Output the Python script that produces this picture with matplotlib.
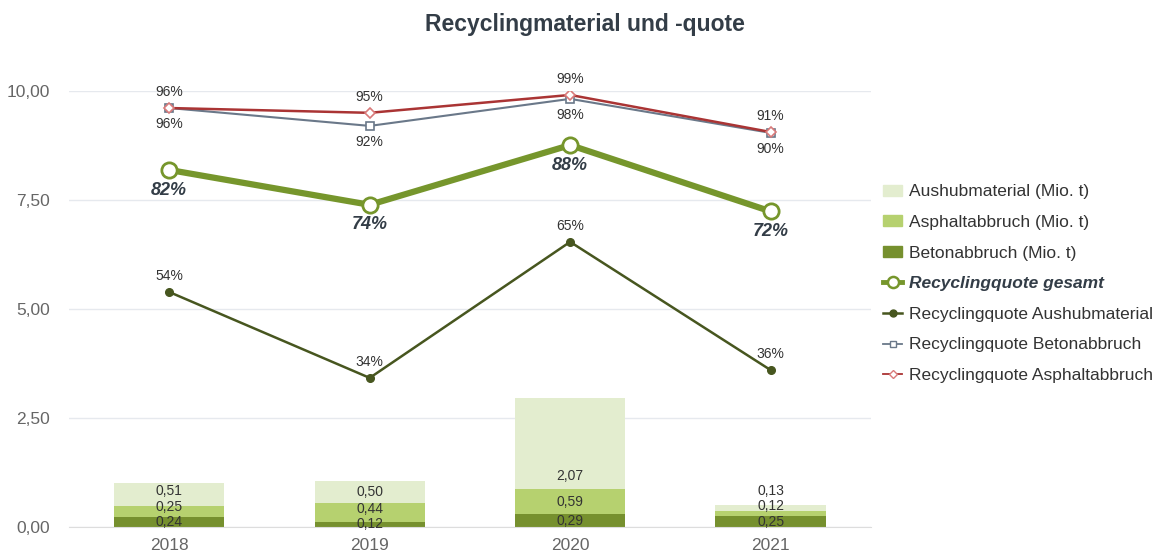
import matplotlib.pyplot as plt
from matplotlib.lines import Line2D
from matplotlib.patches import Patch

plt.rcParams['font.family'] = ['Liberation Sans', 'DejaVu Sans']

# Daten
jahre = ["2018", "2019", "2020", "2021"]
beton_mio_t = [0.24, 0.12, 0.29, 0.25]
asphalt_mio_t = [0.25, 0.44, 0.59, 0.12]
aushub_mio_t = [0.51, 0.50, 2.07, 0.13]

quote_gesamt = [81.9, 73.9, 87.6, 72.4]
quote_aushub = [53.9, 34.2, 65.4, 36.0]
quote_beton = [96.1, 92.0, 98.2, 90.4]
quote_asphalt = [96.1, 95.0, 99.1, 90.6]

c_aushub = "#e3edcf"
c_asphalt = "#b6d16f"
c_beton = "#76902e"
c_gesamt = "#76962c"
c_l_aushub = "#47561f"
c_l_beton = "#6a7889"
c_l_asphalt = "#aa3434"
c_text = "#333d47"

fig = plt.figure(figsize=(11.58, 5.53), dpi=100)
ax = fig.add_axes([0.0596, 0.047, 0.6924, 0.7884])

x = list(range(len(jahre)))
bw = 0.55

# gestapelte Säulen
unten = [0.0] * len(x)
stapel = [(beton_mio_t, c_beton), (asphalt_mio_t, c_asphalt), (aushub_mio_t, c_aushub)]
label_pos = [[] for _ in x]
for werte, farbe in stapel:
    ax.bar(x, werte, bw, bottom=unten, color=farbe, zorder=2)
    for i, v in enumerate(werte):
        y = unten[i] + min(v / 2, 0.3)
        if label_pos[i]:
            y = max(y, label_pos[i][-1] + 0.35)
        label_pos[i].append(y)
        ax.text(i, y, f"{v:.2f}".replace(".", ","), ha="center", va="center",
                fontsize=10, color="#333333", zorder=5)
    unten = [u + v for u, v in zip(unten, werte)]

# Quoten-Linien (Skala: % / 10)
def skala(werte):
    return [v / 10 for v in werte]

ax.plot(x, skala(quote_beton), color=c_l_beton, lw=1.5, marker="s", ms=6,
        mfc="white", mec=c_l_beton, mew=1.2, zorder=6)
ax.plot(x, skala(quote_asphalt), color=c_l_asphalt, lw=1.8, marker="D", ms=5,
        mfc="white", mec="#d97a7a", mew=1.2, zorder=7)
ax.plot(x, skala(quote_aushub), color=c_l_aushub, lw=1.8, marker="o", ms=5.5,
        mfc=c_l_aushub, mec=c_l_aushub, zorder=6)
ax.plot(x, skala(quote_gesamt), color=c_gesamt, lw=4.5, marker="o", ms=11,
        mfc="white", mec=c_gesamt, mew=2, zorder=8)

for i in x:
    ax.annotate(f"{quote_asphalt[i]:.0f}%", (i, quote_asphalt[i] / 10), xytext=(0, 11.5),
                textcoords="offset points", ha="center", va="center", fontsize=10,
                color="#333333", zorder=9)
    ax.annotate(f"{quote_beton[i]:.0f}%", (i, quote_beton[i] / 10), xytext=(0, -11.5),
                textcoords="offset points", ha="center", va="center", fontsize=10,
                color="#333333", zorder=9)
    ax.annotate(f"{quote_aushub[i]:.0f}%", (i, quote_aushub[i] / 10), xytext=(0, 11.5),
                textcoords="offset points", ha="center", va="center", fontsize=10,
                color="#333333", zorder=9)
    ax.annotate(f"{quote_gesamt[i]:.0f}%", (i, quote_gesamt[i] / 10), xytext=(0, -14.5),
                textcoords="offset points", ha="center", va="center", fontsize=13,
                fontweight="bold", fontstyle="italic", color=c_text, zorder=9)

ax.set_xlim(-0.5, 3.5)
ax.set_ylim(0, 10)
ax.set_yticks([0, 2.5, 5, 7.5, 10])
ax.set_yticklabels(["0,00", "2,50", "5,00", "7,50", "10,00"])
ax.set_xticks(x)
ax.set_xticklabels(jahre)
ax.tick_params(axis="both", length=0, labelsize=12.5, colors="#666666")
ax.tick_params(axis="y", pad=14)
ax.tick_params(axis="x", pad=8)
ax.grid(axis="y", color="#e6e9ee", lw=1, zorder=0)
ax.set_axisbelow(True)
for s in ["top", "right", "left"]:
    ax.spines[s].set_visible(False)
ax.spines["bottom"].set_color("#dddddd")

fig.text(0.505, 0.955, "Recyclingmaterial und -quote", ha="center", va="center",
         fontsize=16.5, fontweight="bold", color=c_text)

handles = [
    Patch(color=c_aushub, label="Aushubmaterial (Mio. t)"),
    Patch(color=c_asphalt, label="Asphaltabbruch (Mio. t)"),
    Patch(color=c_beton, label="Betonabbruch (Mio. t)"),
    Line2D([], [], color=c_gesamt, lw=3.5, marker="o", ms=8, mfc="white", mec=c_gesamt,
           mew=1.8, label="Recyclingquote gesamt"),
    Line2D([], [], color=c_l_aushub, lw=1.8, marker="o", ms=5, mfc=c_l_aushub,
           label="Recyclingquote Aushubmaterial"),
    Line2D([], [], color=c_l_beton, lw=1.3, marker="s", ms=5, mfc="white",
           label="Recyclingquote Betonabbruch"),
    Line2D([], [], color=c_l_asphalt, lw=1.3, marker="D", ms=4.5, mfc="white",
           mec="#d97a7a", label="Recyclingquote Asphaltabbruch"),
]
leg = fig.legend(handles=handles, loc="upper left", bbox_to_anchor=(0.749, 0.695),
                 frameon=False, fontsize=12.5, handlelength=1.1, handleheight=0.6,
                 labelspacing=0.9, handletextpad=0.4)
for t in leg.get_texts():
    t.set_color("#333333")
leg.get_texts()[3].set_fontweight("bold")
leg.get_texts()[3].set_fontstyle("italic")
leg.get_texts()[3].set_color(c_text)

fig.savefig("out.png", dpi=100)
